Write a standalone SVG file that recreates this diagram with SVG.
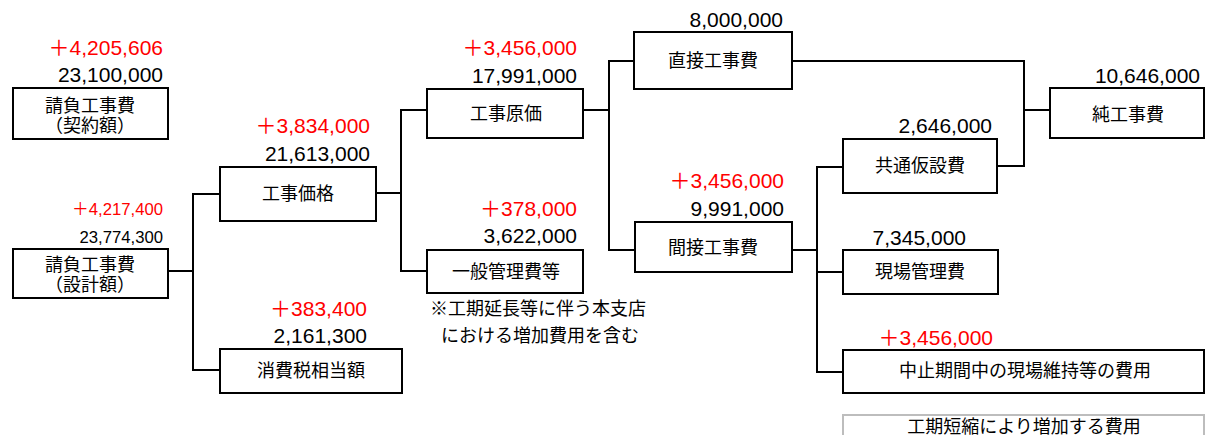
<svg xmlns="http://www.w3.org/2000/svg" width="1206" height="435" viewBox="0 0 1206 435">
<style>
.box{fill:#fff;stroke:#000;stroke-width:2}
.gbox{fill:#fff;stroke:#bdbdbd;stroke-width:2}
.ln{fill:none;stroke:#000;stroke-width:2}
.lbl{font-family:"Liberation Sans","Noto Sans CJK JP",sans-serif;font-size:18px;fill:#000;text-anchor:middle}
.num{font-family:"Liberation Sans","Noto Sans CJK JP",sans-serif;font-size:21px;fill:#000;text-anchor:end}
.red{fill:#ff0000}
.sm{font-size:16.7px}
.note{font-family:"Liberation Sans","Noto Sans CJK JP",sans-serif;font-size:18px;fill:#000;text-anchor:middle}
</style>
<g id="connectors">
<polyline class="ln" points="168,271 193,271"/>
<polyline class="ln" points="220,194 193,194 193,370 220,370"/>
<polyline class="ln" points="376,193 401,193"/>
<polyline class="ln" points="427,110 401,110 401,271 427,271"/>
<polyline class="ln" points="583,110 609,110"/>
<polyline class="ln" points="634,61 609,61 609,250 635,250"/>
<polyline class="ln" points="792,250 817,250"/>
<polyline class="ln" points="843,167 817,167 817,372 843,372"/>
<polyline class="ln" points="817,272 843,272"/>
<polyline class="ln" points="792,61 1024,61 1024,166 997,166"/>
<polyline class="ln" points="1024,110 1050,110"/>
</g>
<g id="node-keiyaku">
<rect class="box" x="13" y="88" width="155" height="51"/>
<text class="lbl" x="90" y="112">請負工事費</text>
<text class="lbl" x="90" y="132">（契約額）</text>
<text class="num red" x="163" y="55">＋4,205,606</text>
<text class="num" x="163" y="82">23,100,000</text>
</g>
<g id="node-sekkei">
<rect class="box" x="13" y="249" width="155" height="49"/>
<text class="lbl" x="90" y="271">請負工事費</text>
<text class="lbl" x="90" y="291">（設計額）</text>
<text class="num red sm" x="163" y="215">＋4,217,400</text>
<text class="num sm" x="163" y="243">23,774,300</text>
</g>
<g id="node-kakaku">
<rect class="box" x="220" y="167" width="156" height="54"/>
<text class="lbl" x="298" y="200">工事価格</text>
<text class="num red" x="370" y="133">＋3,834,000</text>
<text class="num" x="370" y="161">21,613,000</text>
</g>
<g id="node-shohizei">
<rect class="box" x="220" y="349" width="182" height="44"/>
<text class="lbl" x="311" y="377">消費税相当額</text>
<text class="num red" x="367" y="316">＋383,400</text>
<text class="num" x="367" y="343">2,161,300</text>
</g>
<g id="node-genka">
<rect class="box" x="427" y="89" width="156" height="49"/>
<text class="lbl" x="506" y="120">工事原価</text>
<text class="num red" x="577" y="55">＋3,456,000</text>
<text class="num" x="577" y="83">17,991,000</text>
</g>
<g id="node-ippan">
<rect class="box" x="427" y="250" width="156" height="43"/>
<text class="lbl" x="506" y="278">一般管理費等</text>
<text class="num red" x="577" y="216">＋378,000</text>
<text class="num" x="577" y="243">3,622,000</text>
<text class="note" x="538" y="315">※工期延長等に伴う本支店</text>
<text class="note" x="540" y="342">における増加費用を含む</text>
</g>
<g id="node-chokusetsu">
<rect class="box" x="634" y="32" width="158" height="57"/>
<text class="lbl" x="713" y="67">直接工事費</text>
<text class="num" x="783" y="27">8,000,000</text>
</g>
<g id="node-kansetsu">
<rect class="box" x="635" y="222" width="157" height="50"/>
<text class="lbl" x="713" y="254">間接工事費</text>
<text class="num red" x="784" y="188">＋3,456,000</text>
<text class="num" x="784" y="216">9,991,000</text>
</g>
<g id="node-kyotsu">
<rect class="box" x="843" y="139" width="154" height="54"/>
<text class="lbl" x="920" y="172">共通仮設費</text>
<text class="num" x="992" y="133">2,646,000</text>
</g>
<g id="node-genba">
<rect class="box" x="843" y="250" width="155" height="44"/>
<text class="lbl" x="920" y="278">現場管理費</text>
<text class="num" x="966" y="245">7,345,000</text>
</g>
<g id="node-chushi">
<rect class="box" x="843" y="350" width="361" height="43"/>
<text class="lbl" x="1025" y="377">中止期間中の現場維持等の費用</text>
<text class="num red" x="993" y="345">＋3,456,000</text>
</g>
<g id="node-tanshuku">
<rect class="gbox" x="843" y="415" width="361" height="30"/>
<text class="lbl" x="1024" y="433">工期短縮により増加する費用</text>
</g>
<g id="node-jun">
<rect class="box" x="1050" y="88" width="154" height="50"/>
<text class="lbl" x="1128" y="121">純工事費</text>
<text class="num" x="1200" y="83">10,646,000</text>
</g>
</svg>
